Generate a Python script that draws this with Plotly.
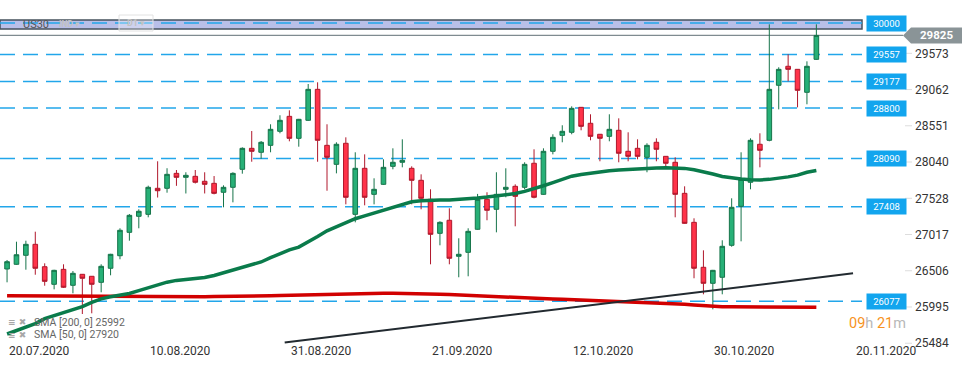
import plotly.graph_objects as go

# ---------------- data ----------------
bar_index = list(range(87))

opens = [26531, 26597, 26724, 26879, 26563, 26315, 26526, 26301, 26456, 26428,
         26343, 26541, 26718, 27048, 27274, 27302, 27669, 27669, 27880, 27824,
         27838, 27768, 27739, 27613, 27683, 27937, 28233, 28177, 28275, 28473,
         28684, 28374, 28628, 29065, 28275, 28007, 28304, 27302, 27951, 27584,
         27725, 27979, 28036, 27951, 27782, 27514, 27034, 27218, 26710, 26766,
         27091, 27514, 27373, 27655, 27697, 27683, 28022, 27584, 28191, 28416,
         28459, 28811, 28586, 28431, 28402, 28487, 28191, 28233, 28106, 28318,
         28120, 28036, 27598, 27189, 26555, 26329, 26414, 26865, 27415, 27754,
         28290, 28346, 29122, 29390, 29347, 29023, 29488]
highs = [26658, 26916, 26930, 27057, 26611, 26520, 26597, 26502, 26460, 26432,
         26597, 26745, 27105, 27306, 27373, 27706, 28050, 27952, 27927, 27895,
         27927, 27895, 27842, 27711, 27895, 28247, 28477, 28336, 28572, 28699,
         28769, 28648, 29140, 29164, 28572, 28318, 28388, 28177, 28148, 27810,
         28078, 28233, 28360, 27979, 27866, 27655, 27204, 27387, 26964, 27105,
         27590, 27613, 27895, 27951, 27725, 28036, 28219, 28233, 28431, 28558,
         28825, 28815, 28713, 28435, 28713, 28656, 28459, 28360, 28304, 28374,
         28124, 28106, 27697, 27246, 26794, 26518, 26936, 27528, 28177, 28374,
         28445, 29982, 29376, 29559, 29350, 29460, 29982]
lows = [26343, 26590, 26521, 26450, 26295, 26244, 26263, 26188, 25896, 25906,
        26202, 26442, 26668, 26930, 27105, 27260, 27539, 27607, 27704, 27596,
        27737, 27596, 27584, 27401, 27471, 27875, 28044, 28086, 28177, 28445,
        28332, 28256, 28620, 28044, 27635, 27880, 27443, 27189, 27429, 27443,
        27718, 27937, 27965, 27443, 27373, 26597, 26865, 26597, 26414, 26428,
        27085, 27218, 27048, 27542, 27133, 27655, 27528, 27578, 28148, 28318,
        28431, 28487, 28346, 28050, 28332, 28036, 28050, 28078, 27895, 28050,
        27979, 27260, 27170, 26400, 26174, 25962, 26174, 26845, 26921, 27655,
        27965, 28332, 28783, 29178, 28811, 28854, 29482]
closes = [26634, 26732, 26879, 26541, 26357, 26512, 26273, 26470, 26400, 26315,
          26569, 26738, 27077, 27288, 27345, 27683, 27635, 27866, 27824, 27852,
          27754, 27725, 27598, 27683, 27880, 28233, 28191, 28318, 28501, 28628,
          28374, 28642, 29065, 28346, 28106, 28290, 27542, 27951, 27542, 27655,
          27965, 28036, 28064, 27782, 27528, 27020, 27189, 26682, 26738, 27062,
          27514, 27359, 27584, 27683, 27556, 28007, 27542, 28191, 28388, 28473,
          28797, 28543, 28402, 28374, 28501, 28163, 28120, 28120, 28275, 28219,
          28022, 27584, 27175, 26541, 26329, 26512, 26851, 27401, 27796, 28346,
          28205, 29065, 29347, 29347, 29051, 29390, 29825]

sma50 = [25614, 25660, 25710, 25760, 25830, 25870, 25920, 25960, 26000, 26060,
         26110, 26140, 26165, 26185, 26225, 26265, 26305, 26345, 26370, 26385,
         26398, 26410, 26440, 26480, 26510, 26550, 26590, 26630, 26690, 26750,
         26800, 26840, 26910, 26990, 27070, 27130, 27190, 27240, 27280, 27320,
         27360, 27400, 27440, 27480, 27495, 27505, 27505, 27505, 27510, 27520,
         27532, 27545, 27560, 27575, 27595, 27625, 27660, 27705, 27750, 27795,
         27840, 27865, 27885, 27905, 27917, 27928, 27938, 27946, 27952, 27956,
         27958, 27960, 27950, 27930, 27903, 27870, 27835, 27815, 27800, 27790,
         27786, 27795, 27810, 27830, 27855, 27895, 27920]
sma200 = [26155, 26154, 26153, 26152, 26150, 26148, 26146,
          26144, 26143, 26142, 26141, 26141, 26140, 26140, 26140, 26140, 26140,
          26141, 26141, 26141, 26141, 26141, 26142, 26142, 26142, 26143, 26145, 26148,
          26152, 26156, 26160, 26163, 26166, 26169,
          26173, 26176, 26179,
          26183, 26186, 26188, 26189, 26189, 26188, 26186,
          26183, 26179, 26175, 26170, 26164,
          26158, 26150, 26143, 26136, 26129,
          26123, 26118, 26114, 26111, 26108, 26105, 26100, 26095, 26090, 26085,
          26080, 26076, 26073, 26070, 26066, 26060, 26052,
          26044, 26034, 26024, 26014, 26005,
          25999, 25997, 25996, 25995, 25994, 25994, 25993, 25993, 25993, 25992, 25992]

levels = [30000, 29557, 29177, 28800, 28090, 27408, 26077]
resistance_zone = [29916, 30043]
last_price = 29825
trend_x = [29.5, 89.9]
trend_y = [25494, 26470]
y_ticks = [25484, 25995, 26506, 27017, 27528, 28040, 28551, 29062, 29573]
date_labels = ["20.07.2020", "10.08.2020", "31.08.2020", "21.09.2020",
               "12.10.2020", "30.10.2020", "20.11.2020"]
date_label_bars = [0, 15, 30, 45, 60, 75, 90]
legend_texts = ["SMA [200, 0] 25992", "SMA [50, 0] 27920"]

# ---------------- figure ----------------
PLOT_W = 862.0  # px width of plot area
PLOT_H = 344.0
FONT = "Roboto"

fig = go.Figure()

fig.add_trace(go.Scatter(x=bar_index, y=sma200, mode="lines",
                         line=dict(color="#d10000", width=3.5), hoverinfo="skip"))
fig.add_trace(go.Scatter(x=bar_index, y=sma50, mode="lines",
                         line=dict(color="#0a7b4b", width=3.5), hoverinfo="skip"))
fig.add_trace(go.Scatter(x=trend_x, y=trend_y, mode="lines",
                         line=dict(color="#222a30", width=2), hoverinfo="skip"))

fig.add_trace(go.Candlestick(
    x=bar_index, open=opens, high=highs, low=lows, close=closes,
    increasing=dict(fillcolor="#27b077", line=dict(color="#16744a", width=1)),
    decreasing=dict(fillcolor="#ff3349", line=dict(color="#b0182c", width=1)),
    whiskerwidth=0,
))


def px(p):
    return p / PLOT_W


def py(p):
    return 1 - p / PLOT_H


shapes = []
# resistance zone
shapes.append(dict(type="rect", xref="paper", yref="y", x0=0, x1=1,
                   y0=resistance_zone[0], y1=resistance_zone[1],
                   fillcolor="#b9bfe8", line=dict(color="#46525c", width=1.5),
                   layer="below"))
for lv in levels:
    shapes.append(dict(type="line", xref="paper", yref="y", x0=0, x1=1, y0=lv, y1=lv,
                       line=dict(color="#22a6ea", width=1.5, dash="15px,8px"),
                       layer="below"))
# last price line
shapes.append(dict(type="line", xref="paper", yref="y", x0=0, x1=px(903),
                   y0=last_price, y1=last_price,
                   line=dict(color="#7f8b90", width=1.3), layer="below"))
# last price arrow label
top_v, bot_v = last_price + 113, last_price - 112
shapes.append(dict(type="path", xref="paper", yref="y",
                   path=f"M {px(903)},{last_price} L {px(911)},{top_v} L {px(962)},{top_v} "
                        f"L {px(962)},{bot_v} L {px(911)},{bot_v} Z",
                   fillcolor="#8a9497", line=dict(width=0)))
# right axis small tick marks
for t in y_ticks:
    shapes.append(dict(type="line", xref="paper", yref="y", x0=px(905), x1=px(912),
                       y0=t, y1=t, line=dict(color="#dddddd", width=1)))
# D1 box
shapes.append(dict(type="rect", xref="paper", yref="paper",
                   x0=px(119), x1=px(153), y0=py(31), y1=py(15),
                   line=dict(color="#e2e2e2", width=1), fillcolor="rgba(255,255,255,0.3)"))

annotations = []
for lv in levels:
    annotations.append(dict(xref="paper", yref="y", x=px(866), y=lv, xanchor="left",
                            yanchor="middle", text=str(lv), showarrow=False,
                            font=dict(family=FONT, size=9.5, color="white"),
                            bgcolor="#12a5ee", width=37, height=13, borderpad=1))
annotations.append(dict(xref="paper", yref="y", x=px(936.5), y=last_price,
                        xanchor="center", yanchor="middle", text=f"<b>{last_price}</b>",
                        showarrow=False, font=dict(family=FONT, size=11.5, color="white")))
for lbl, b in zip(date_labels, date_label_bars):
    annotations.append(dict(xref="x", yref="paper", x=b - 0.05, y=0, xanchor="left",
                            yanchor="top", yshift=2, text=lbl, showarrow=False,
                            font=dict(family=FONT, size=12, color="#333333")))
# legend rows
for i, t in enumerate(legend_texts):
    ypx = 322 + i * 12.5
    annotations.append(dict(xref="paper", yref="paper", x=px(6), y=py(ypx),
                            xanchor="left", yanchor="middle", showarrow=False,
                            text="<b>≡ ✖</b>", font=dict(family="DejaVu Sans", size=9, color="#a8a8a8")))
    annotations.append(dict(xref="paper", yref="paper", x=px(32), y=py(ypx),
                            xanchor="left", yanchor="middle", showarrow=False,
                            text=t, font=dict(family=FONT, size=10.5, color="#666666")))
# timer
annotations.append(dict(xref="paper", yref="paper", x=px(847), y=py(323),
                        xanchor="left", yanchor="middle", showarrow=False,
                        text="<span style='color:#f7931e'>09</span>h <span style='color:#f7931e'>21</span>m",
                        font=dict(family=FONT, size=14.5, color="#b8b8b8")))
# symbol header
annotations.append(dict(xref="paper", yref="paper", x=px(21), y=py(24),
                        xanchor="left", yanchor="middle", showarrow=False, text="US30",
                        font=dict(family=FONT, size=11, color="#555555")))
annotations.append(dict(xref="paper", yref="paper", x=px(57), y=py(24),
                        xanchor="left", yanchor="middle", showarrow=False, text="<b>IND</b> ▾",
                        font=dict(family=FONT, size=8.5, color="#c2c2c2")))
annotations.append(dict(xref="paper", yref="paper", x=px(136), y=py(23),
                        xanchor="center", yanchor="middle", showarrow=False, text="<b>D1</b> ▾",
                        font=dict(family=FONT, size=9, color="#c2c2c2")))

fig.update_layout(
    width=974, height=368,
    margin=dict(l=0, r=112, t=0, b=24),
    paper_bgcolor="white", plot_bgcolor="white",
    showlegend=False,
    font=dict(family=FONT),
    shapes=shapes, annotations=annotations,
    xaxis=dict(range=[-0.75, 90.85], showgrid=False, zeroline=False, showline=False,
               showticklabels=False, ticks="", rangeslider=dict(visible=False),
               fixedrange=True),
    yaxis=dict(range=[25473, 30325], side="right", showgrid=False, zeroline=False,
               showline=False, tickvals=y_ticks, ticktext=[str(t) for t in y_ticks],
               ticks="", ticklabelstandoff=52,
               tickfont=dict(family=FONT, size=12, color="#333333"), fixedrange=True),
)

fig.write_html("out.html", config={"displayModeBar": False},
               post_script="document.body.style.margin='0';document.body.style.padding='0';")
